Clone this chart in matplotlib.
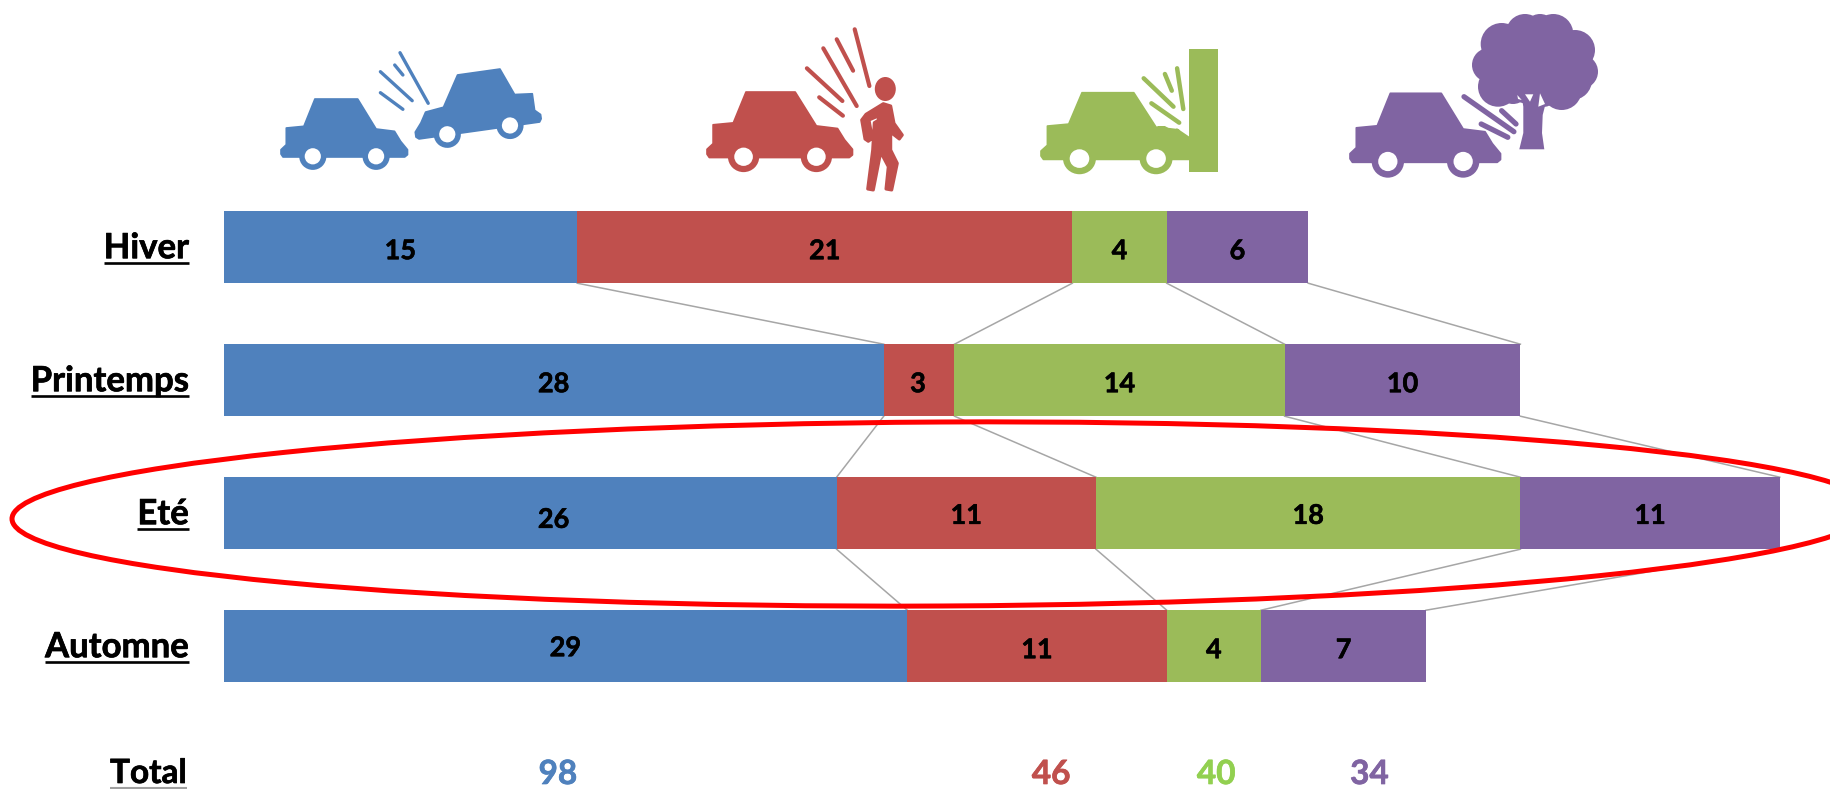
import matplotlib
matplotlib.use("Agg")
import matplotlib.pyplot as plt
import matplotlib.patheffects as pe
from matplotlib.patches import Ellipse, Polygon, Circle, Rectangle
from matplotlib.transforms import Affine2D

plt.rcParams['font.family'] = ['Lato', 'DejaVu Sans']

# data
seasons = ['Hiver', 'Printemps', 'Eté', 'Automne']
collision = [15, 28, 26, 29]
pedestrian = [21, 3, 11, 11]
obstacle = [4, 14, 18, 4]
tree = [6, 10, 11, 7]
totals = [98, 46, 40, 34]

BLUE = '#4F81BD'
RED = '#C0504D'
GREEN = '#9BBB59'
PURPLE = '#8064A2'
bar_colors = [BLUE, RED, GREEN, PURPLE]
total_colors = [BLUE, RED, '#92D050', PURPLE]

W, H = 1830, 789
X0 = 223.5     # pixel of value 0
UNIT = 23.58   # pixels per accident
Y0 = 247.2     # pixel of first bar centre
PITCH = 133.0  # pixels between bars

fig = plt.figure(figsize=(W / 100, H / 100), dpi=100, facecolor='white')
ax = fig.add_axes([0, 0, 1, 1])
ax.set_xlim(-X0 / UNIT, (W - X0) / UNIT)
ax.set_ylim((H - Y0) / PITCH, -Y0 / PITCH)
ax.axis('off')

# pixel overlay for the icons and ring
ov = fig.add_axes([0, 0, 1, 1])
ov.set_xlim(0, W)
ov.set_ylim(H, 0)
ov.axis('off')
ov.patch.set_alpha(0)


def heavy(color, w=0.5):
    return [pe.withStroke(linewidth=w, foreground=color)]


bar_h = 72.0 / PITCH
series = [collision, pedestrian, obstacle, tree]
# labels moved by hand in the original (dx in accidents, dy in rows)
label_shift = {(2, 0): (1.0, 0.02), (3, 0): (0, -0.015), (2, 1): (0, -0.01), (2, 2): (0, -0.01), (2, 3): (0, -0.01),
               (1, 1): (-0.05, 0)}

left = [0, 0, 0, 0]
edges = []
for k, vals in enumerate(series):
    ax.barh(range(4), vals, left=left, height=bar_h, color=bar_colors[k], linewidth=0, zorder=2)
    for i, v in enumerate(vals):
        dx, dy = label_shift.get((i, k), (0, 0))
        ax.text(left[i] + v / 2 + dx, i + 0.03 + dy, str(v), ha='center', va='center', fontsize=19.5,
                fontweight='bold', color='black', zorder=3, path_effects=heavy('black', 0.4))
    left = [a + b for a, b in zip(left, vals)]
    edges.append(list(left))

# series lines between the bars
for e in edges:
    for i in range(3):
        ax.plot([e[i], e[i + 1]], [i + bar_h / 2, i + 1 - bar_h / 2], color='#A6A6A6', lw=1.1, zorder=1)

# season labels, underlined
fig.canvas.draw()
renderer = fig.canvas.get_renderer()
to_px = ov.transData.inverted()


def underlined(x, y, s, size, ul_color='black', ul_lw=1.9):
    t = ov.text(x, y, s, ha='right', va='baseline', fontsize=size, fontweight='bold', color='black',
                path_effects=heavy('black'))
    bb = t.get_window_extent(renderer)
    x1 = to_px.transform((bb.x0, 0))[0]
    x2 = to_px.transform((bb.x1, 0))[0]
    ov.plot([x1, x2], [y + 5, y + 5], color=ul_color, lw=ul_lw, solid_capstyle='butt')


for i, s in enumerate(seasons):
    underlined(189, Y0 + PITCH * i + 11, s, 25)
underlined(187, 783, 'Total', 24, ul_color='#A0A0A0', ul_lw=1.5)

total_x = [14.18, 35.1, 42.1, 48.6]
for v, c, xv in zip(totals, total_colors, total_x):
    ax.text(xv, (784 - Y0) / PITCH, str(v), ha='center', va='baseline', fontsize=24, fontweight='bold', color=c,
            path_effects=heavy(c))

# red ring
ov.add_patch(Ellipse((942, 514), 1860, 184, angle=-0.3, fill=False, edgecolor='#FF0000', lw=3.6, zorder=5))

# icons
CAR = [(33.9, 0), (76.7, 0), (95.1, 30), (113.5, 32.3), (119.6, 42.3), (126.5, 50.7), (126.5, 55.7),
       (123.7, 58), (2, 58), (0, 55), (0, 50.7), (5.3, 45.7), (5.3, 29), (22.9, 27.3)]
WHEELS = [31.8, 95.1]


def car(tr, color):
    t = tr + ov.transData
    ov.add_patch(Polygon(CAR, closed=True, facecolor=color, edgecolor=color, lw=1.2, joinstyle='round',
                         transform=t, zorder=3))
    for wx in WHEELS:
        ov.add_patch(Circle((wx, 57.3), 13.6, facecolor=color, lw=0, transform=t, zorder=3))
        ov.add_patch(Circle((wx, 57.3), 8.1, facecolor='white', lw=0, transform=t, zorder=4))


def sparks(segs, color, lw):
    for (x1, y1, x2, y2) in segs:
        ov.plot([x1, x2], [y1, y2], color=color, lw=lw, solid_capstyle='round', zorder=4)


# two cars
car(Affine2D().translate(281, 99), BLUE)
car(Affine2D().scale(-1, 1).rotate_deg(-8).translate(533.5, 64.3), BLUE)
sparks([(400, 52.7, 428.2, 103.3), (394.7, 65, 402.9, 75), (380.4, 71.7, 412.2, 100.7), (380.4, 92.7, 402.9, 109.3)],
       BLUE, 2.4)

# car and pedestrian
car(Affine2D().scale(1.15, 1.13).translate(707, 92), RED)
sparks([(854.7, 29.3, 869.4, 86), (836.7, 39.3, 853.1, 70.7), (823.3, 48.3, 856.7, 106),
        (806.9, 68.3, 842.4, 101), (819.2, 97.3, 842.9, 115.7)], RED, 3.0)
ov.add_patch(Ellipse((885.3, 89), 21, 24, facecolor=RED, lw=0, zorder=3))
ov.add_patch(Polygon([(883.3, 103.7), (890.7, 106), (894, 123.3), (902.3, 135), (899.3, 139), (890.7, 132.3),
                      (890.7, 150), (897.3, 163.3), (891.7, 190), (886, 189), (888.3, 166.7), (880.7, 152.3),
                      (873.3, 190), (867.7, 189), (872.7, 150), (874.3, 122.7), (878.3, 120.3), (878.3, 116),
                      (869, 120), (872.3, 138.3), (868.3, 141.3), (865, 139), (861.7, 120), (866, 114.3)],
                     closed=True, facecolor=RED, edgecolor=RED, lw=2.2, joinstyle='round', zorder=3))

# car and wall
car(Affine2D().scale(1.21, 1.15).translate(1041, 92.7), GREEN)
ov.add_patch(Polygon([(1157.6, 126), (1164.9, 126), (1173, 130.7), (1177, 128.3), (1189.4, 136.7), (1189.4, 159.3),
                      (1150, 159.3)], closed=True, facecolor=GREEN, lw=0, zorder=3))
ov.add_patch(Rectangle((1189.4, 49.3), 28.6, 122.4, facecolor=GREEN, lw=0, zorder=3))
sparks([(1143.7, 78.3, 1173.5, 106.7), (1164.9, 74, 1171.8, 90.7), (1177.1, 68.3, 1183.3, 109),
        (1151.4, 103.3, 1179.2, 122.7)], GREEN, 3.2)

# car and tree
car(Affine2D().scale(1.19, 1.19).translate(1350, 93.3), PURPLE)
sparks([(1464, 96.7, 1513.9, 131.7), (1501.6, 110.7, 1516, 124), (1481.2, 124, 1507.8, 137.3)], PURPLE, 3.8)
canopy = [(1525, 33, 19), (1553.3, 34, 20), (1501.7, 44, 21), (1575, 50, 20), (1489, 65, 17), (1540, 30, 16),
          (1581, 71.7, 17), (1498, 86.7, 20), (1561.7, 90, 20), (1535, 63, 42), (1513, 88, 16), (1543, 92, 15),
          (1572, 80, 20), (1504, 62, 24)]
for cx, cy, r in canopy:
    ov.add_patch(Circle((cx, cy), r, facecolor=PURPLE, lw=0, zorder=3))
ov.add_patch(Polygon([(1522, 98), (1547, 98), (1542.7, 115), (1542, 133), (1544.3, 149.3), (1519.3, 149.3),
                      (1523.3, 133), (1523.3, 106.7)], closed=True, facecolor=PURPLE, lw=0, zorder=3))
for tri in [[(1517.3, 95), (1521.7, 100), (1518, 99)],
            [(1525, 94.3), (1533.3, 94.3), (1530, 101.7)],
            [(1540, 93.3), (1545, 104), (1538.3, 106.7)]]:
    ov.add_patch(Polygon(tri, closed=True, facecolor='white', lw=0, zorder=4))

fig.savefig('out.png', dpi=100)
